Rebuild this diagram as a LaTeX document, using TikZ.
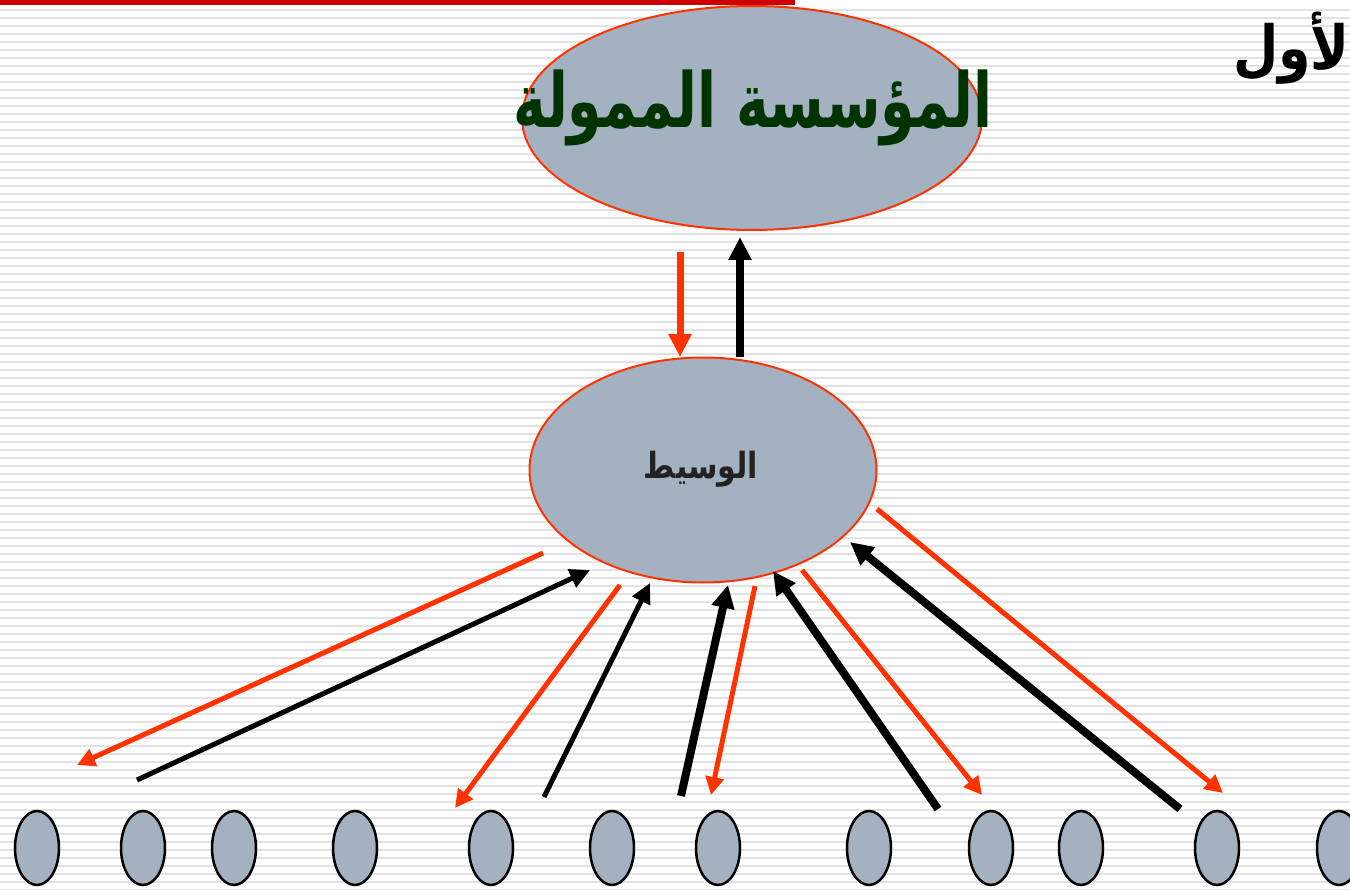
\documentclass[tikz,border=0pt]{standalone}
\usepackage{fontspec}
\usetikzlibrary{shapes.geometric,arrows.meta}
\TeXXeTstate=1
\newfontfamily\arabicfont[Script=Arabic]{DejaVu Sans}
\definecolor{stripe}{HTML}{E2E2E2}
\definecolor{topbar}{HTML}{CC0000}
\definecolor{redarr}{HTML}{FF3300}
\definecolor{ellfill}{HTML}{A3B1C0}
\definecolor{titlegreen}{HTML}{003300}
\definecolor{midtext}{HTML}{222222}
\tikzset{
  bigell/.style={ellipse, draw=redarr, line width=2pt, fill=ellfill, inner sep=0pt},
  smallell/.style={ellipse, draw=black, line width=2.5pt, fill=ellfill, inner sep=0pt, minimum width=44pt, minimum height=74pt},
  redthin/.style={draw=redarr, line width=5pt, -{Triangle[length=18pt,width=18pt]}},
  redthick/.style={draw=redarr, line width=7pt, -{Triangle[length=23pt,width=22pt]}},
  blackthin/.style={draw=black, line width=5pt, -{Triangle[length=20pt,width=19pt]}},
  blackthick/.style={draw=black, line width=8pt, -{Triangle[length=23pt,width=22pt]}},
}
\begin{document}
\begin{tikzpicture}[x=1pt,y=-1pt]
\useasboundingbox (0,0) rectangle (1350,890);
\fill[white] (0,0) rectangle (1350,890);
\foreach \yy in {10,18,...,890} {\fill[stripe] (0,\yy-1) rectangle (1350,\yy+1);}
\fill[topbar] (0,0) rectangle (795,5);
% text top right
\node[anchor=north east, inner sep=0pt, font=\arabicfont\bfseries\fontsize{58}{60}\selectfont] (hdr) at (1350,12) {\scalebox{0.9}[1.05]{\beginR لأول\endR}};
% main ellipses
\node[bigell, minimum width=460pt, minimum height=224pt] (fund) at (752,118) {};
\node[font=\arabicfont\bfseries\fontsize{66}{68}\selectfont, text=titlegreen] (fundtxt) at (753,108) {\scalebox{0.84}[1.15]{\beginR المؤسسة الممولة\endR}};
\node[bigell, minimum width=347pt, minimum height=225pt] (med) at (703,470) {};
\node[font=\arabicfont\bfseries\fontsize{30}{32}\selectfont, text=midtext] (medtxt) at (701,469) {\scalebox{1}[1.2]{\beginR الوسيط\endR}};
% small ellipses
\foreach \i/\xx in {1/37,2/143,3/234,4/355,5/491,6/612,7/718,8/869,9/991,10/1081,11/1217,12/1339} {
  \node[smallell] (s\i) at (\xx,848) {};
}
% arrow end coordinates
\coordinate (a1) at (680,252);  \coordinate (a2) at (680,357);
\coordinate (b1) at (740,357);  \coordinate (b2) at (740,237);
\coordinate (r1s) at (543,553); \coordinate (r1e) at (77,765);
\coordinate (k1s) at (137,780); \coordinate (k1e) at (590,570);
\coordinate (r2s) at (620,585); \coordinate (r2e) at (455,808);
\coordinate (k2s) at (544,797); \coordinate (k2e) at (650,583);
\coordinate (k3s) at (681,796); \coordinate (k3e) at (728,585);
\coordinate (r3s) at (755,586); \coordinate (r3e) at (711,795);
\coordinate (k4s) at (938,809); \coordinate (k4e) at (773,571);
\coordinate (r4s) at (802,570); \coordinate (r4e) at (982,795);
\coordinate (k5s) at (1180,809); \coordinate (k5e) at (850,542);
\coordinate (r5s) at (877,509); \coordinate (r5e) at (1223,793);
% arrows
\draw[redthick] (a1) -- (a2);
\draw[blackthick] (b1) -- (b2);
\draw[redthin] (r1s) -- (r1e);
\draw[blackthin] (k1s) -- (k1e);
\draw[redthin] (r2s) -- (r2e);
\draw[blackthin] (k2s) -- (k2e);
\draw[blackthick] (k3s) -- (k3e);
\draw[redthin] (r3s) -- (r3e);
\draw[blackthick] (k4s) -- (k4e);
\draw[redthin] (r4s) -- (r4e);
\draw[blackthick] (k5s) -- (k5e);
\draw[redthin] (r5s) -- (r5e);
\end{tikzpicture}
\end{document}
